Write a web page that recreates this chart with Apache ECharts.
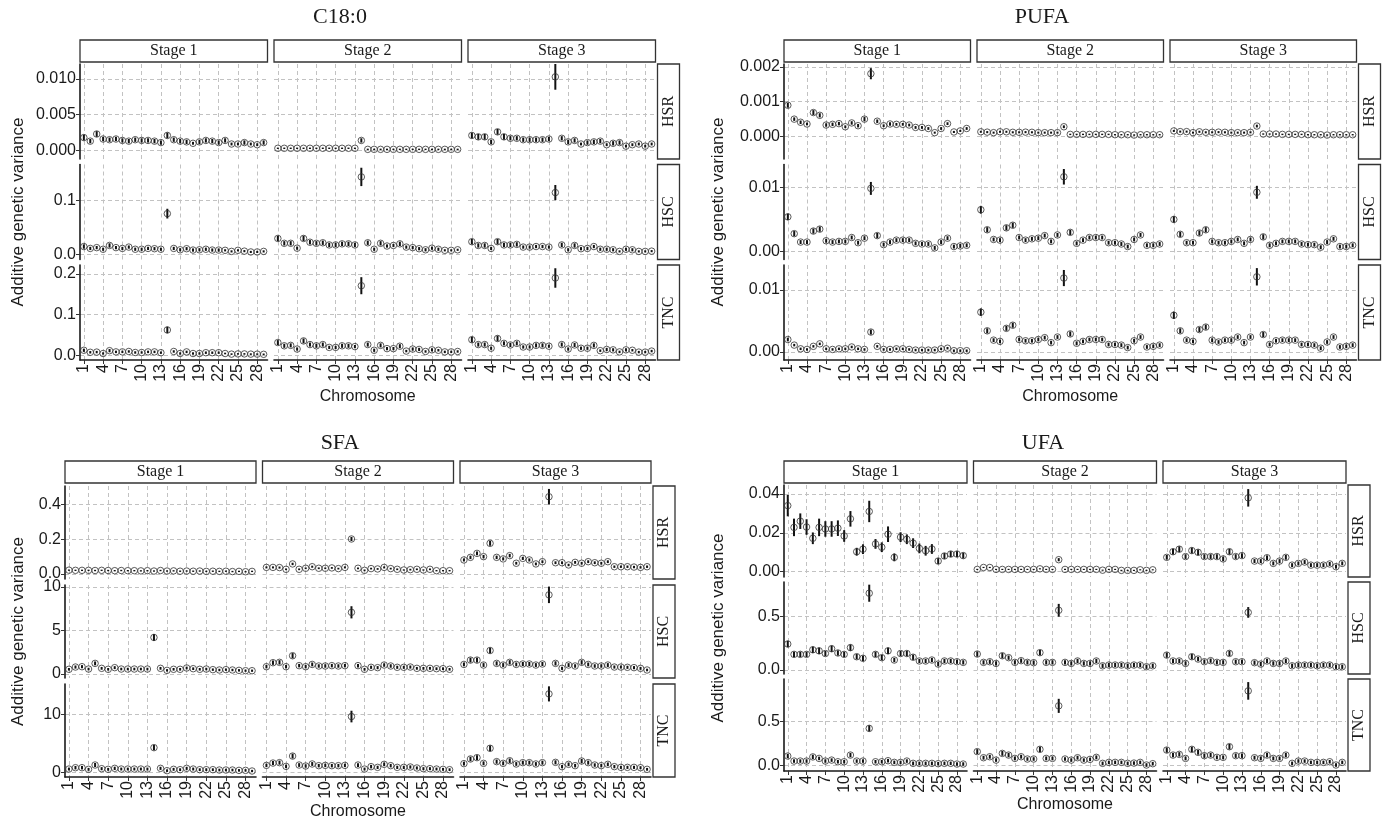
<!DOCTYPE html>
<html><head><meta charset="utf-8">
<script src="https://cdn.jsdelivr.net/npm/echarts@6.0.0/dist/echarts.min.js"></script>
<style>html,body{margin:0;padding:0;background:#fff}#chart{width:1385px;height:820px}</style>
</head><body><div id="chart"></div>
<script>
// ---------------- DATA ----------------
const chromosomes = [1,2,3,4,5,6,7,8,9,10,11,12,13,14,15,16,17,18,19,20,21,22,23,24,25,26,27,28,29];
const xTicks = [1,4,7,10,13,16,19,22,25,28];
const stageNames = ['Stage 1','Stage 2','Stage 3'];
const rowNames = ['HSR','HSC','TNC'];

// C18:0
const C180_HSR_S1 = [0.0018,0.0013,0.0023,0.0016,0.0015,0.0016,0.0014,0.0013,0.0015,0.0014, 0.0014,0.0013,0.0011,0.0021,0.0015,0.0013,0.0012,0.0010,0.0012,0.0014, 0.0013,0.0011,0.0014,0.0009,0.0009,0.0011,0.0009,0.0008,0.0011];
const C180_HSR_S1_E = [0.0004,0.0003,0.0004,0.0003,0.0003,0.0003,0.0003,0.0003,0.0003,0.0003, 0.0003,0.0003,0.0003,0.0004,0.0003,0.0003,0.0003,0.0002,0.0003,0.0003, 0.0003,0.0003,0.0003,0.0002,0.0002,0.0003,0.0002,0.0002,0.0003];
const C180_HSR_S2 = [0.0003,0.0003,0.0003,0.0003,0.0003,0.0003,0.0003,0.0003,0.0003,0.0003, 0.0003,0.0003,0.0003,0.0014,0.00015,0.00015,0.00015,0.00015,0.00015,0.00015, 0.00015,0.00015,0.00015,0.00015,0.00015,0.00015,0.00015,0.00015,0.00015];
const C180_HSR_S2_E = [0.0001,0.0001,0.0001,0.0001,0.0001,0.0001,0.0001,0.0001,0.0001,0.0001, 0.0001,0.0001,0.0001,0.0003,0.0001,0.0001,0.0001,0.0001,0.0001,0.0001, 0.0001,0.0001,0.0001,0.0001,0.0001,0.0001,0.0001,0.0001,0.0001];
const C180_HSR_S3 = [0.0021,0.0019,0.0019,0.0012,0.0026,0.0019,0.0017,0.0017,0.0015,0.0015, 0.0015,0.0015,0.0016,0.0103,0.0017,0.0012,0.0014,0.0009,0.0011,0.0012, 0.0013,0.0008,0.0010,0.0011,0.0006,0.0008,0.0009,0.0006,0.0009];
const C180_HSR_S3_E = [0.0004,0.0004,0.0004,0.0003,0.0004,0.0004,0.0003,0.0003,0.0003,0.0003, 0.0003,0.0003,0.0003,0.0018,0.0003,0.0003,0.0003,0.0002,0.0003,0.0003, 0.0003,0.0002,0.0003,0.0003,0.0002,0.0002,0.0002,0.0002,0.0002];
const C180_HSC_S1 = [0.014,0.0105,0.012,0.009,0.016,0.012,0.0105,0.013,0.009,0.009, 0.0105,0.010,0.009,0.075,0.0105,0.008,0.010,0.0075,0.008,0.009, 0.0075,0.0075,0.007,0.005,0.007,0.0055,0.004,0.004,0.005];
const C180_HSC_S1_E = [0.004,0.003,0.003,0.003,0.004,0.003,0.003,0.003,0.003,0.003, 0.003,0.003,0.003,0.009,0.003,0.003,0.003,0.003,0.003,0.003, 0.003,0.003,0.002,0.002,0.002,0.002,0.002,0.002,0.002];
const C180_HSC_S2 = [0.029,0.020,0.020,0.011,0.029,0.022,0.020,0.021,0.017,0.017, 0.019,0.019,0.017,0.143,0.021,0.009,0.020,0.015,0.016,0.019, 0.013,0.012,0.010,0.008,0.011,0.009,0.007,0.007,0.008];
const C180_HSC_S2_E = [0.005,0.004,0.004,0.003,0.005,0.004,0.004,0.004,0.004,0.004, 0.004,0.004,0.004,0.017,0.004,0.003,0.004,0.003,0.003,0.004, 0.003,0.003,0.003,0.003,0.003,0.003,0.002,0.002,0.002];
const C180_HSC_S3 = [0.023,0.016,0.016,0.0105,0.023,0.017,0.017,0.018,0.013,0.013, 0.014,0.014,0.013,0.114,0.017,0.008,0.016,0.010,0.0105,0.014, 0.009,0.009,0.008,0.005,0.009,0.008,0.005,0.005,0.0055];
const C180_HSC_S3_E = [0.005,0.004,0.004,0.003,0.005,0.004,0.004,0.004,0.003,0.003, 0.003,0.003,0.003,0.014,0.004,0.003,0.004,0.003,0.003,0.003, 0.003,0.003,0.003,0.002,0.003,0.003,0.002,0.002,0.002];
const C180_TNC_S1 = [0.012,0.007,0.0075,0.004,0.011,0.008,0.008,0.009,0.0065,0.0065, 0.008,0.008,0.006,0.062,0.009,0.004,0.008,0.004,0.004,0.006, 0.006,0.006,0.004,0.0025,0.003,0.003,0.0025,0.0025,0.002];
const C180_TNC_S1_E = [0.004,0.003,0.003,0.003,0.004,0.003,0.003,0.003,0.003,0.003, 0.003,0.003,0.003,0.008,0.003,0.003,0.003,0.003,0.003,0.003, 0.003,0.003,0.002,0.002,0.002,0.002,0.002,0.002,0.002];
const C180_TNC_S2 = [0.031,0.023,0.024,0.015,0.035,0.026,0.023,0.026,0.019,0.019, 0.023,0.023,0.021,0.171,0.026,0.012,0.024,0.016,0.016,0.022, 0.010,0.015,0.014,0.009,0.013,0.012,0.008,0.008,0.009];
const C180_TNC_S2_E = [0.006,0.005,0.005,0.004,0.006,0.005,0.005,0.005,0.004,0.004, 0.005,0.005,0.004,0.021,0.005,0.004,0.005,0.004,0.004,0.005, 0.003,0.004,0.004,0.003,0.004,0.003,0.003,0.003,0.003];
const C180_TNC_S3 = [0.038,0.026,0.026,0.017,0.041,0.029,0.025,0.029,0.020,0.020, 0.024,0.024,0.022,0.190,0.026,0.015,0.025,0.017,0.017,0.024, 0.011,0.014,0.013,0.008,0.013,0.012,0.0075,0.0075,0.010];
const C180_TNC_S3_E = [0.007,0.005,0.005,0.004,0.007,0.005,0.005,0.005,0.004,0.004, 0.005,0.005,0.004,0.024,0.005,0.004,0.005,0.004,0.004,0.005, 0.003,0.004,0.004,0.003,0.004,0.003,0.003,0.003,0.003];

// PUFA
const PUFA_HSR_S1 = [0.00089,0.00049,0.00040,0.00035,0.00068,0.00060,0.00032,0.00034,0.00036,0.00027, 0.00038,0.00030,0.00049,0.00180,0.00043,0.00030,0.00035,0.00034,0.00034,0.00032, 0.00025,0.00025,0.00022,0.00010,0.00022,0.00036,0.00012,0.00015,0.00022];
const PUFA_HSR_S1_E = [0.00007,0.00005,0.00005,0.00004,0.00007,0.00006,0.00005,0.00005,0.00005,0.00004, 0.00005,0.00005,0.00006,0.00016,0.00005,0.00004,0.00005,0.00004,0.00004,0.00004, 0.00004,0.00004,0.00004,0.00003,0.00004,0.00004,0.00003,0.00003,0.00004];
const PUFA_HSR_S2 = [0.000125,0.000115,0.00010,0.000125,0.000125,0.00011,0.00011,0.000115,0.00011,0.00010, 0.00010,0.00010,0.00010,0.00027,0.00005,0.00005,0.00005,0.00005,0.00005,0.00005, 0.00005,0.00004,0.00004,0.00004,0.00003,0.00004,0.00004,0.00004,0.00004];
const PUFA_HSR_S2_E = [0.00003,0.00003,0.00003,0.00003,0.00003,0.00003,0.00003,0.00003,0.00003,0.00003, 0.00003,0.00003,0.00003,0.00004,0.00002,0.00002,0.00002,0.00002,0.00002,0.00002, 0.00002,0.00002,0.00002,0.00002,0.00002,0.00002,0.00002,0.00002,0.00002];
const PUFA_HSR_S3 = [0.00015,0.00013,0.00013,0.00010,0.000125,0.00011,0.00011,0.000115,0.00011,0.00010, 0.00010,0.00010,0.00011,0.00029,0.00006,0.00006,0.00006,0.00005,0.00005,0.00005, 0.00005,0.00004,0.00004,0.00004,0.00003,0.00004,0.00004,0.00004,0.00004];
const PUFA_HSR_S3_E = [0.00003,0.00003,0.00003,0.00003,0.00003,0.00003,0.00003,0.00003,0.00003,0.00003, 0.00003,0.00003,0.00003,0.00004,0.00002,0.00002,0.00002,0.00002,0.00002,0.00002, 0.00002,0.00002,0.00002,0.00002,0.00002,0.00002,0.00002,0.00002,0.00002];
const PUFA_HSC_S1 = [0.0054,0.0028,0.0015,0.0015,0.0032,0.0035,0.0017,0.0015,0.0016,0.0016, 0.0022,0.0014,0.0021,0.0098,0.0025,0.0011,0.0015,0.0018,0.0018,0.0018, 0.0013,0.0012,0.0012,0.0006,0.0015,0.0021,0.0008,0.0009,0.0010];
const PUFA_HSC_S1_E = [0.0005,0.0004,0.0003,0.0003,0.0004,0.0004,0.0003,0.0003,0.0003,0.0003, 0.0003,0.0003,0.0003,0.0010,0.0004,0.0003,0.0003,0.0003,0.0003,0.0003, 0.0003,0.0003,0.0003,0.0003,0.0003,0.0003,0.0003,0.0003,0.0003];
const PUFA_HSC_S2 = [0.0065,0.0034,0.0019,0.0018,0.0037,0.0041,0.0022,0.0018,0.0020,0.0021, 0.0025,0.0016,0.0026,0.0116,0.0030,0.0013,0.0018,0.0022,0.0022,0.0022, 0.0014,0.0014,0.0012,0.0008,0.0019,0.0026,0.0010,0.0010,0.0012];
const PUFA_HSC_S2_E = [0.0006,0.0004,0.0003,0.0003,0.0004,0.0004,0.0003,0.0003,0.0003,0.0003, 0.0003,0.0003,0.0003,0.0012,0.0004,0.0003,0.0003,0.0003,0.0003,0.0003, 0.0003,0.0003,0.0003,0.0003,0.0003,0.0003,0.0003,0.0003,0.0003];
const PUFA_HSC_S3 = [0.0050,0.0027,0.0014,0.0014,0.0029,0.0034,0.0016,0.0014,0.0014,0.0016, 0.0019,0.0013,0.0019,0.0092,0.0023,0.0010,0.0013,0.0016,0.0016,0.0016, 0.0012,0.0011,0.0011,0.0007,0.0015,0.0020,0.0008,0.0008,0.0010];
const PUFA_HSC_S3_E = [0.0005,0.0004,0.0003,0.0003,0.0004,0.0004,0.0003,0.0003,0.0003,0.0003, 0.0003,0.0003,0.0003,0.0010,0.0004,0.0003,0.0003,0.0003,0.0003,0.0003, 0.0003,0.0003,0.0003,0.0003,0.0003,0.0003,0.0003,0.0003,0.0003];
const PUFA_TNC_S1 = [0.0020,0.0011,0.0005,0.0004,0.0009,0.0013,0.0005,0.0004,0.0005,0.0005, 0.0008,0.0005,0.0004,0.0032,0.0009,0.0004,0.0004,0.0005,0.0005,0.0004, 0.0003,0.0003,0.0003,0.0003,0.0005,0.0006,0.0002,0.0002,0.0002];
const PUFA_TNC_S1_E = [0.0003,0.0002,0.0002,0.0002,0.0002,0.0002,0.0002,0.0002,0.0002,0.0002, 0.0002,0.0002,0.0002,0.0004,0.0002,0.0002,0.0002,0.0002,0.0002,0.0002, 0.0002,0.0002,0.0002,0.0002,0.0002,0.0002,0.0002,0.0002,0.0002];
const PUFA_TNC_S2 = [0.0064,0.0034,0.0019,0.0017,0.0038,0.0043,0.0020,0.0018,0.0018,0.0020, 0.0023,0.0015,0.0024,0.0119,0.0029,0.0014,0.0017,0.0020,0.0020,0.0020, 0.0012,0.0012,0.0011,0.0007,0.0018,0.0024,0.0008,0.0009,0.0011];
const PUFA_TNC_S2_E = [0.0006,0.0004,0.0003,0.0003,0.0004,0.0004,0.0003,0.0003,0.0003,0.0003, 0.0003,0.0003,0.0003,0.0013,0.0004,0.0003,0.0003,0.0003,0.0003,0.0003, 0.0003,0.0003,0.0003,0.0003,0.0003,0.0003,0.0003,0.0003,0.0003];
const PUFA_TNC_S3 = [0.0059,0.0034,0.0019,0.0017,0.0036,0.0040,0.0019,0.0016,0.0019,0.0019, 0.0024,0.0015,0.0024,0.0121,0.0028,0.0012,0.0018,0.0019,0.0019,0.0019, 0.0012,0.0012,0.0011,0.0006,0.0016,0.0024,0.0008,0.0009,0.0011];
const PUFA_TNC_S3_E = [0.0006,0.0004,0.0003,0.0003,0.0004,0.0004,0.0003,0.0003,0.0003,0.0003, 0.0003,0.0003,0.0003,0.0014,0.0004,0.0003,0.0003,0.0003,0.0003,0.0003, 0.0003,0.0003,0.0003,0.0003,0.0003,0.0003,0.0003,0.0003,0.0003];

// SFA
const SFA_HSR_S1 = [0.022,0.021,0.021,0.021,0.020,0.021,0.020,0.019,0.020,0.019, 0.019,0.018,0.019,0.017,0.020,0.017,0.018,0.016,0.017,0.016, 0.017,0.015,0.016,0.015,0.016,0.014,0.015,0.013,0.015];
const SFA_HSR_S1_E = [0.004,0.004,0.004,0.004,0.004,0.004,0.004,0.004,0.004,0.004, 0.004,0.004,0.004,0.004,0.004,0.004,0.004,0.004,0.004,0.004, 0.004,0.004,0.004,0.004,0.004,0.004,0.004,0.004,0.004];
const SFA_HSR_S2 = [0.038,0.038,0.037,0.027,0.058,0.027,0.033,0.042,0.033,0.033, 0.035,0.031,0.038,0.202,0.033,0.021,0.031,0.029,0.038,0.031, 0.027,0.023,0.025,0.027,0.023,0.027,0.019,0.019,0.019];
const SFA_HSR_S2_E = [0.006,0.006,0.006,0.005,0.007,0.005,0.005,0.006,0.005,0.005, 0.005,0.005,0.006,0.012,0.005,0.005,0.005,0.005,0.006,0.005, 0.005,0.004,0.005,0.005,0.004,0.005,0.004,0.004,0.004];
const SFA_HSR_S3 = [0.081,0.096,0.119,0.100,0.177,0.096,0.087,0.106,0.062,0.090, 0.081,0.058,0.071,0.446,0.065,0.065,0.052,0.067,0.062,0.071, 0.065,0.062,0.071,0.042,0.042,0.042,0.040,0.038,0.042];
const SFA_HSR_S3_E = [0.009,0.010,0.011,0.010,0.014,0.010,0.009,0.010,0.008,0.009, 0.009,0.008,0.008,0.045,0.008,0.008,0.007,0.008,0.008,0.008, 0.008,0.008,0.008,0.007,0.007,0.007,0.007,0.007,0.007];
const SFA_HSC_S1 = [0.54,0.80,0.84,0.57,1.22,0.65,0.54,0.73,0.57,0.57, 0.57,0.57,0.57,4.20,0.65,0.42,0.54,0.54,0.69,0.61, 0.54,0.57,0.50,0.46,0.50,0.46,0.42,0.38,0.38];
const SFA_HSC_S1_E = [0.15,0.18,0.18,0.15,0.22,0.16,0.15,0.17,0.15,0.15, 0.15,0.15,0.15,0.40,0.16,0.14,0.15,0.15,0.16,0.15, 0.15,0.15,0.14,0.14,0.14,0.14,0.14,0.13,0.13];
const SFA_HSC_S2 = [0.84,1.30,1.34,0.84,2.10,0.96,0.84,1.10,0.92,0.92, 0.96,0.92,0.96,7.09,0.96,0.54,0.77,0.73,1.03,0.92, 0.77,0.77,0.80,0.65,0.65,0.65,0.61,0.61,0.54];
const SFA_HSC_S2_E = [0.20,0.25,0.25,0.20,0.30,0.20,0.20,0.22,0.20,0.20, 0.20,0.20,0.20,0.70,0.20,0.16,0.18,0.18,0.20,0.20, 0.18,0.18,0.18,0.16,0.16,0.16,0.16,0.16,0.15];
const SFA_HSC_S3 = [1.10,1.60,1.60,1.03,2.70,1.22,1.03,1.34,1.10,1.15, 1.15,1.03,1.15,9.10,1.22,0.65,1.03,0.92,1.34,1.10, 0.92,0.92,1.03,0.80,0.80,0.77,0.73,0.65,0.46];
const SFA_HSC_S3_E = [0.22,0.28,0.28,0.22,0.32,0.24,0.22,0.25,0.22,0.23, 0.23,0.22,0.23,0.95,0.24,0.18,0.22,0.20,0.25,0.22, 0.20,0.20,0.22,0.18,0.18,0.18,0.18,0.17,0.15];
const SFA_TNC_S1 = [0.57,0.80,0.80,0.52,1.26,0.63,0.52,0.69,0.57,0.57, 0.57,0.57,0.57,4.25,0.69,0.29,0.52,0.46,0.69,0.57, 0.46,0.46,0.46,0.40,0.40,0.40,0.34,0.34,0.23];
const SFA_TNC_S1_E = [0.25,0.30,0.30,0.25,0.35,0.27,0.25,0.28,0.25,0.25, 0.25,0.25,0.25,0.45,0.27,0.22,0.25,0.24,0.27,0.25, 0.24,0.24,0.24,0.23,0.23,0.23,0.22,0.22,0.20];
const SFA_TNC_S2 = [1.20,1.60,1.67,1.03,2.80,1.26,1.09,1.44,1.15,1.20, 1.15,1.15,1.20,9.60,1.26,0.57,0.98,0.86,1.38,1.15, 0.86,0.86,0.92,0.75,0.63,0.63,0.57,0.52,0.46];
const SFA_TNC_S2_E = [0.30,0.35,0.35,0.30,0.42,0.32,0.30,0.33,0.30,0.30, 0.30,0.30,0.30,1.00,0.32,0.25,0.30,0.28,0.32,0.30, 0.28,0.28,0.28,0.27,0.26,0.26,0.25,0.25,0.24];
const SFA_TNC_S3 = [1.50,2.30,2.53,1.55,4.14,1.84,1.55,2.00,1.44,1.67, 1.67,1.44,1.67,13.50,1.72,0.98,1.38,1.15,1.95,1.67, 1.26,1.15,1.38,0.98,0.86,0.86,0.86,0.80,0.52];
const SFA_TNC_S3_E = [0.33,0.40,0.42,0.33,0.50,0.36,0.33,0.38,0.32,0.34, 0.34,0.32,0.34,1.30,0.35,0.28,0.32,0.30,0.37,0.34, 0.30,0.30,0.32,0.28,0.27,0.27,0.27,0.26,0.24];

// UFA
const UFA_HSR_S1 = [0.034,0.0228,0.026,0.023,0.0172,0.0228,0.022,0.022,0.0224,0.0184, 0.0272,0.0103,0.0116,0.031,0.0143,0.0126,0.0193,0.0074,0.0178,0.0167, 0.0147,0.012,0.0108,0.0117,0.0055,0.0081,0.0091,0.0091,0.0083];
const UFA_HSR_S1_E = [0.0055,0.0045,0.004,0.004,0.003,0.0045,0.004,0.004,0.004,0.003, 0.004,0.002,0.0025,0.0055,0.0025,0.0025,0.004,0.002,0.0025,0.0025, 0.0025,0.0025,0.0025,0.0025,0.0015,0.0015,0.0015,0.0015,0.0015];
const UFA_HSR_S2 = [0.0012,0.0022,0.0022,0.0012,0.0012,0.0012,0.0012,0.0012,0.0012,0.0012, 0.0015,0.0012,0.0012,0.0062,0.0012,0.0012,0.0012,0.0012,0.0012,0.0012, 0.0008,0.0012,0.0012,0.0007,0.0007,0.0007,0.0010,0.0007,0.0010];
const UFA_HSR_S2_E = [0.0003,0.0003,0.0003,0.0003,0.0003,0.0003,0.0003,0.0003,0.0003,0.0003, 0.0003,0.0003,0.0003,0.0008,0.0003,0.0003,0.0003,0.0003,0.0003,0.0003, 0.0003,0.0003,0.0003,0.0003,0.0003,0.0003,0.0003,0.0003,0.0003];
const UFA_HSR_S3 = [0.0074,0.0103,0.0116,0.0078,0.0109,0.0100,0.0078,0.0078,0.0078,0.0066, 0.0103,0.0078,0.0083,0.0380,0.0055,0.0055,0.0072,0.0043,0.0055,0.0074, 0.0034,0.0043,0.0050,0.0034,0.0034,0.0034,0.0040,0.0026,0.0043];
const UFA_HSR_S3_E = [0.0012,0.0015,0.0015,0.0012,0.0015,0.0015,0.0012,0.0012,0.0012,0.0012, 0.0015,0.0012,0.0012,0.0045,0.0010,0.0010,0.0012,0.0010,0.0010,0.0012, 0.0010,0.0010,0.0010,0.0010,0.0010,0.0010,0.0010,0.0010,0.0010];
const UFA_HSC_S1 = [0.244,0.147,0.147,0.147,0.190,0.180,0.155,0.200,0.160,0.147, 0.210,0.125,0.110,0.720,0.147,0.116,0.180,0.094,0.155,0.155, 0.120,0.085,0.085,0.094,0.056,0.085,0.085,0.078,0.072];
const UFA_HSC_S1_E = [0.030,0.025,0.025,0.025,0.030,0.030,0.025,0.030,0.025,0.025, 0.030,0.025,0.025,0.080,0.025,0.025,0.030,0.020,0.025,0.025, 0.025,0.020,0.020,0.020,0.020,0.020,0.020,0.020,0.020];
const UFA_HSC_S2 = [0.150,0.072,0.078,0.062,0.134,0.116,0.072,0.088,0.072,0.069, 0.163,0.072,0.072,0.560,0.072,0.062,0.085,0.062,0.062,0.085, 0.040,0.047,0.047,0.047,0.040,0.047,0.047,0.031,0.040];
const UFA_HSC_S2_E = [0.025,0.020,0.020,0.020,0.025,0.020,0.020,0.020,0.020,0.020, 0.025,0.020,0.020,0.060,0.020,0.020,0.020,0.020,0.020,0.020, 0.020,0.020,0.020,0.020,0.020,0.020,0.020,0.020,0.020];
const UFA_HSC_S3 = [0.140,0.085,0.085,0.062,0.125,0.103,0.078,0.088,0.072,0.072, 0.156,0.078,0.078,0.540,0.069,0.056,0.085,0.062,0.062,0.085, 0.040,0.047,0.047,0.047,0.040,0.047,0.047,0.031,0.031];
const UFA_HSC_S3_E = [0.025,0.020,0.020,0.020,0.025,0.020,0.020,0.020,0.020,0.020, 0.025,0.020,0.020,0.050,0.020,0.020,0.020,0.020,0.020,0.020, 0.020,0.020,0.020,0.020,0.020,0.020,0.020,0.020,0.020];
const UFA_TNC_S1 = [0.110,0.053,0.053,0.053,0.100,0.083,0.053,0.064,0.045,0.045, 0.121,0.053,0.053,0.424,0.045,0.045,0.057,0.038,0.038,0.053, 0.027,0.027,0.027,0.027,0.023,0.027,0.027,0.019,0.019];
const UFA_TNC_S1_E = [0.025,0.020,0.020,0.020,0.025,0.020,0.020,0.020,0.020,0.020, 0.025,0.020,0.020,0.035,0.020,0.020,0.020,0.020,0.020,0.020, 0.020,0.020,0.020,0.020,0.020,0.020,0.020,0.020,0.020];
const UFA_TNC_S2 = [0.160,0.091,0.102,0.064,0.140,0.121,0.083,0.102,0.076,0.076, 0.186,0.083,0.083,0.680,0.076,0.064,0.091,0.064,0.072,0.095, 0.027,0.038,0.038,0.038,0.027,0.030,0.038,0.008,0.023];
const UFA_TNC_S2_E = [0.028,0.022,0.022,0.020,0.027,0.025,0.022,0.022,0.020,0.020, 0.030,0.022,0.022,0.080,0.020,0.020,0.022,0.020,0.020,0.022, 0.020,0.020,0.020,0.020,0.020,0.020,0.020,0.020,0.020];
const UFA_TNC_S3 = [0.178,0.121,0.129,0.083,0.186,0.152,0.114,0.121,0.095,0.095, 0.216,0.114,0.114,0.850,0.091,0.083,0.121,0.083,0.083,0.121, 0.027,0.053,0.053,0.038,0.038,0.038,0.045,0.008,0.038];
const UFA_TNC_S3_E = [0.030,0.025,0.025,0.022,0.030,0.027,0.025,0.025,0.022,0.022, 0.032,0.025,0.025,0.100,0.022,0.022,0.025,0.022,0.022,0.025, 0.020,0.020,0.020,0.020,0.020,0.020,0.020,0.020,0.020];

// y tick values per row (HSR, HSC, TNC)
const C180_YTICKS = [[0,0.005,0.01],[0,0.1],[0,0.1,0.2]];
const PUFA_YTICKS = [[0,0.001,0.002],[0,0.01],[0,0.01]];
const SFA_YTICKS  = [[0,0.2,0.4],[0,5,10],[0,10]];
const UFA_YTICKS  = [[0,0.02,0.04],[0,0.5],[0,0.5]];

// ---------------- LAYOUT ----------------
const panels = [
  {title:'C18:0',
   vals:[[C180_HSR_S1,C180_HSR_S2,C180_HSR_S3],[C180_HSC_S1,C180_HSC_S2,C180_HSC_S3],[C180_TNC_S1,C180_TNC_S2,C180_TNC_S3]],
   errs:[[C180_HSR_S1_E,C180_HSR_S2_E,C180_HSR_S3_E],[C180_HSC_S1_E,C180_HSC_S2_E,C180_HSC_S3_E],[C180_TNC_S1_E,C180_TNC_S2_E,C180_TNC_S3_E]],
   yTicks:C180_YTICKS, dec:[3,1,1],
   x0:80, colW:187.5, gap:6.5, rowTops:[64,164.5,265], rowH:95, stripTop:40,
   lims:[[-0.0012,0.0121],[-0.010,0.166],[-0.012,0.222]],
   titleX:340, titleY:17, yTitleX:18, xNameY:397},
  {title:'PUFA',
   vals:[[PUFA_HSR_S1,PUFA_HSR_S2,PUFA_HSR_S3],[PUFA_HSC_S1,PUFA_HSC_S2,PUFA_HSC_S3],[PUFA_TNC_S1,PUFA_TNC_S2,PUFA_TNC_S3]],
   errs:[[PUFA_HSR_S1_E,PUFA_HSR_S2_E,PUFA_HSR_S3_E],[PUFA_HSC_S1_E,PUFA_HSC_S2_E,PUFA_HSC_S3_E],[PUFA_TNC_S1_E,PUFA_TNC_S2_E,PUFA_TNC_S3_E]],
   yTicks:PUFA_YTICKS, dec:[3,2,2],
   x0:784, colW:186.5, gap:6.5, rowTops:[64,164.5,265], rowH:95, stripTop:40,
   lims:[[-0.00066,0.00208],[-0.0012,0.0135],[-0.0013,0.0140]],
   titleX:1042, titleY:17, yTitleX:718, xNameY:397},
  {title:'SFA',
   vals:[[SFA_HSR_S1,SFA_HSR_S2,SFA_HSR_S3],[SFA_HSC_S1,SFA_HSC_S2,SFA_HSC_S3],[SFA_TNC_S1,SFA_TNC_S2,SFA_TNC_S3]],
   errs:[[SFA_HSR_S1_E,SFA_HSR_S2_E,SFA_HSR_S3_E],[SFA_HSC_S1_E,SFA_HSC_S2_E,SFA_HSC_S3_E],[SFA_TNC_S1_E,SFA_TNC_S2_E,SFA_TNC_S3_E]],
   yTicks:SFA_YTICKS, dec:[1,0,0],
   x0:65, colW:191, gap:6.5, rowTops:[486,585,684], rowH:93, stripTop:461,
   lims:[[-0.029,0.508],[-0.46,10.23],[-0.8,15.2]],
   titleX:340, titleY:443, yTitleX:18, xNameY:812},
  {title:'UFA',
   vals:[[UFA_HSR_S1,UFA_HSR_S2,UFA_HSR_S3],[UFA_HSC_S1,UFA_HSC_S2,UFA_HSC_S3],[UFA_TNC_S1,UFA_TNC_S2,UFA_TNC_S3]],
   errs:[[UFA_HSR_S1_E,UFA_HSR_S2_E,UFA_HSR_S3_E],[UFA_HSC_S1_E,UFA_HSC_S2_E,UFA_HSC_S3_E],[UFA_TNC_S1_E,UFA_TNC_S2_E,UFA_TNC_S3_E]],
   yTicks:UFA_YTICKS, dec:[2,1,1],
   x0:784, colW:183, gap:6.5, rowTops:[485,582,679], rowH:92, stripTop:461,
   lims:[[-0.0027,0.0446],[-0.037,0.825],[-0.06,0.985]],
   titleX:1043, titleY:443, yTitleX:718, xNameY:805}
];

const STRIP_H = 22, STRIP_W = 22, STRIP_GAP = 2;
const SERIF = '"Liberation Serif", "DejaVu Serif", serif';
const SANS = '"Liberation Sans", Arial, sans-serif';
const GRID_LINE = {color:'#c2c2c2', type:[4,3], width:1};

const option = {animation:false, backgroundColor:'#ffffff', grid:[], xAxis:[], yAxis:[], series:[], graphic:[]};

function textEl(x, y, text, font, rot) {
  return {type:'text', x:x, y:y, rotation:rot||0, silent:true,
    style:{text:text, font:font, fill:'#1a1a1a', textAlign:'center', textVerticalAlign:'middle', align:'center', verticalAlign:'middle'}};
}

let gi = 0;
panels.forEach(p => {
  const colLeft = c => p.x0 + c*(p.colW + p.gap);
  const rightEdge = colLeft(2) + p.colW;
  option.graphic.push(textEl(p.titleX, p.titleY, p.title, '22px ' + SERIF));
  for (let c = 0; c < 3; c++) {
    option.graphic.push({type:'rect', silent:true, shape:{x:colLeft(c), y:p.stripTop, width:p.colW, height:STRIP_H},
      style:{fill:'#ffffff', stroke:'#333333', lineWidth:1.3}});
    option.graphic.push(textEl(colLeft(c) + p.colW/2, p.stripTop + STRIP_H/2, stageNames[c], '16px ' + SERIF));
  }
  for (let r = 0; r < 3; r++) {
    option.graphic.push({type:'rect', silent:true, shape:{x:rightEdge + STRIP_GAP, y:p.rowTops[r], width:STRIP_W, height:p.rowH},
      style:{fill:'#ffffff', stroke:'#333333', lineWidth:1.3}});
    option.graphic.push(textEl(rightEdge + STRIP_GAP + STRIP_W/2, p.rowTops[r] + p.rowH/2, rowNames[r], '16px ' + SERIF, Math.PI/2));
  }
  const yMid = (p.rowTops[0] + p.rowTops[2] + p.rowH)/2;
  option.graphic.push(textEl(p.yTitleX, yMid, 'Additive genetic variance', '17px ' + SANS, Math.PI/2));
  option.graphic.push(textEl((p.x0 + rightEdge)/2, p.xNameY, 'Chromosome', '16px ' + SANS));

  for (let r = 0; r < 3; r++) {
    for (let c = 0; c < 3; c++) {
      const vals = p.vals[r][c], errs = p.errs[r][c];
      const dec = p.dec[r];
      option.grid.push({left:colLeft(c), top:p.rowTops[r], width:p.colW, height:p.rowH});
      option.xAxis.push({gridIndex:gi, type:'value', min:0.4, max:29.6,
        axisLine:{show:r===2, onZero:false, lineStyle:{color:'#1a1a1a', width:1.6}},
        axisTick:{show:r===2, customValues:xTicks, length:4, lineStyle:{color:'#333', width:1}},
        axisLabel:{show:r===2, customValues:xTicks, rotate:90, fontSize:16, fontFamily:SANS, color:'#1a1a1a', margin:4},
        splitLine:{show:true, lineStyle:GRID_LINE}});
      option.yAxis.push({gridIndex:gi, type:'value', min:p.lims[r][0], max:p.lims[r][1],
        axisLine:{show:c===0, onZero:false, lineStyle:{color:'#1a1a1a', width:1.6}},
        axisTick:{show:c===0, customValues:p.yTicks[r], length:4, lineStyle:{color:'#333', width:1}},
        axisLabel:{show:c===0, customValues:p.yTicks[r], fontSize:16, fontFamily:SANS, color:'#1a1a1a', margin:4,
          formatter: v => Number(v).toFixed(dec)},
        splitLine:{show:true, lineStyle:GRID_LINE}});
      option.series.push({type:'custom', xAxisIndex:gi, yAxisIndex:gi, z:2, silent:true,
        data: chromosomes.map((ch, i) => [ch, vals[i] - errs[i], vals[i] + errs[i]]),
        encode:{x:0, y:[1,2]},
        renderItem: (params, api) => {
          const a = api.coord([api.value(0), api.value(1)]);
          const b = api.coord([api.value(0), api.value(2)]);
          return {type:'line', shape:{x1:a[0], y1:a[1], x2:b[0], y2:b[1]}, style:{stroke:'#111', lineWidth:2}};
        }});
      option.series.push({type:'scatter', xAxisIndex:gi, yAxisIndex:gi, z:3, silent:true,
        symbol:'circle', symbolSize:6.5,
        itemStyle:{color:'rgba(0,0,0,0)', borderColor:'#333', borderWidth:1},
        data: chromosomes.map((ch, i) => [ch, vals[i]])});
      gi++;
    }
  }
});

const chart = echarts.init(document.getElementById('chart'), null, {renderer:'canvas'});
chart.setOption(option);
</script></body></html>
